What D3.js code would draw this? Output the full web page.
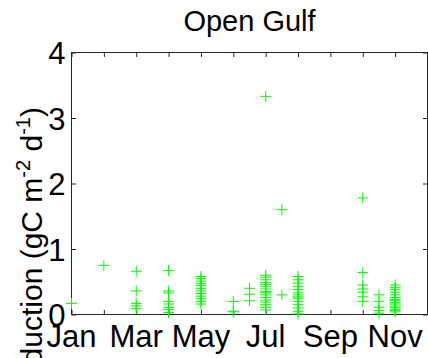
<!DOCTYPE html>
<html>
<head>
<meta charset="utf-8">
<script src="https://cdn.jsdelivr.net/npm/d3@7"></script>
<style>
  html, body { margin: 0; padding: 0; background: #fff; }
  svg { display: block; }
  text { font-family: "Liberation Sans", Arial, Helvetica, sans-serif; fill: #000; }
</style>
</head>
<body>
<svg id="chart" width="428" height="358"></svg>
<script>
// Sampling dates (fractional month number, 1 = Jan) and the daily production
// measured on each of them.
const sampleMonths = [1, 2, 3, 4, 5, 6, 6.5, 7, 7.5, 8, 10, 10.5, 11];
const productionBySample = [
  [0.17],
  [0.75],
  [0.66, 0.36, 0.17, 0.13, 0.09],
  [0.67, 0.36, 0.33, 0.20, 0.16, 0.11, 0.08, 0.03],
  [0.58, 0.55, 0.51, 0.47, 0.44, 0.40, 0.36, 0.32, 0.28, 0.24, 0.20, 0.16],
  [0.20, 0.05, 0.04],
  [0.40, 0.31, 0.21],
  [3.33, 0.60, 0.57, 0.53, 0.49, 0.46, 0.43, 0.39, 0.35, 0.33, 0.30, 0.26, 0.22, 0.19, 0.15, 0.11, 0.07],
  [1.60, 0.30],
  [0.58, 0.53, 0.48, 0.43, 0.38, 0.33, 0.30, 0.27, 0.25, 0.20, 0.15, 0.10, 0.05, 0.01],
  [1.78, 0.64, 0.45, 0.39, 0.34, 0.27, 0.20],
  [0.30, 0.20, 0.11, 0.06, 0.02],
  [0.45, 0.41, 0.38, 0.34, 0.30, 0.26, 0.23, 0.21, 0.18, 0.16, 0.13, 0.11, 0.08, 0.06, 0.04]
];

const monthTicks = [1, 2, 3, 4, 5, 6, 7, 8, 9, 10, 11, 12];
const monthNames = ["Jan", "Feb", "Mar", "Apr", "May", "Jun", "Jul", "Aug", "Sep", "Oct", "Nov", "Dec"];
const labelledMonths = [1, 3, 5, 7, 9, 11];
const yTicks = [0, 1, 2, 3, 4];
const titleText = "Open Gulf";

const svg = d3.select("#chart");
const plot = { left: 71.5, right: 427.5, top: 52.5, bottom: 314.5 };

const x = d3.scaleLinear().domain([1, 12]).range([plot.left, plot.right]);
const y = d3.scaleLinear().domain([0, 4]).range([plot.bottom, plot.top]);

const axisColor = "#262626";
const tickLen = 4.5;
const tickFont = 31;

// Axis box with inward ticks on all four sides
function styleAxis(g) {
  g.select(".domain").remove();
  g.selectAll(".tick line").attr("stroke", axisColor).attr("stroke-width", 1);
  g.selectAll(".tick text").remove();
}

svg.append("g")
  .attr("transform", `translate(0,${plot.bottom})`)
  .call(d3.axisBottom(x).tickValues(monthTicks).tickSize(-tickLen))
  .call(styleAxis);
svg.append("g")
  .attr("transform", `translate(0,${plot.top})`)
  .call(d3.axisTop(x).tickValues(monthTicks).tickSize(-tickLen))
  .call(styleAxis);
svg.append("g")
  .attr("transform", `translate(${plot.left},0)`)
  .call(d3.axisLeft(y).tickValues(yTicks).tickSize(-tickLen))
  .call(styleAxis);
svg.append("g")
  .attr("transform", `translate(${plot.right},0)`)
  .call(d3.axisRight(y).tickValues(yTicks).tickSize(-tickLen))
  .call(styleAxis);

svg.append("rect")
  .attr("x", plot.left).attr("y", plot.top)
  .attr("width", plot.right - plot.left).attr("height", plot.bottom - plot.top)
  .attr("fill", "none").attr("stroke", axisColor).attr("stroke-width", 1);

// Tick labels
svg.append("g").selectAll("text")
  .data(labelledMonths)
  .join("text")
  .attr("x", d => x(d))
  .attr("y", plot.bottom + 32)
  .attr("text-anchor", "middle")
  .attr("font-size", tickFont)
  .text(d => monthNames[d - 1]);

svg.append("g").selectAll("text")
  .data(yTicks)
  .join("text")
  .attr("x", plot.left - 6)
  .attr("y", d => y(d) + 11.5)
  .attr("text-anchor", "end")
  .attr("font-size", tickFont)
  .text(d => d);

// Title
svg.append("text")
  .attr("x", (plot.left + plot.right) / 2)
  .attr("y", 31)
  .attr("text-anchor", "middle")
  .attr("font-size", 29)
  .text(titleText);

// Y axis label with superscripted units
const yl = svg.append("text")
  .attr("transform", "translate(41.7,107) rotate(-90)")
  .attr("text-anchor", "end")
  .attr("font-size", 30);
yl.append("tspan").text("Production (gC m");
yl.append("tspan").attr("font-size", 20).attr("dy", -12).text("-2");
yl.append("tspan").attr("dy", 12).text(" d");
yl.append("tspan").attr("font-size", 20).attr("dy", -12).text("-1");
yl.append("tspan").attr("dy", 12).text(")");

// Observations as "+" markers
const points = sampleMonths.flatMap((m, i) => productionBySample[i].map(v => ({ m, v })));
const half = 5.5;
svg.append("g")
  .selectAll("path")
  .data(points)
  .join("path")
  .attr("d", d => {
    const cx = x(d.m), cy = y(d.v);
    return `M${cx - half},${cy}H${cx + half}M${cx},${cy - half}V${cy + half}`;
  })
  .attr("fill", "none")
  .attr("stroke", "#00ff00")
  .attr("stroke-width", 1);
</script>
</body>
</html>
